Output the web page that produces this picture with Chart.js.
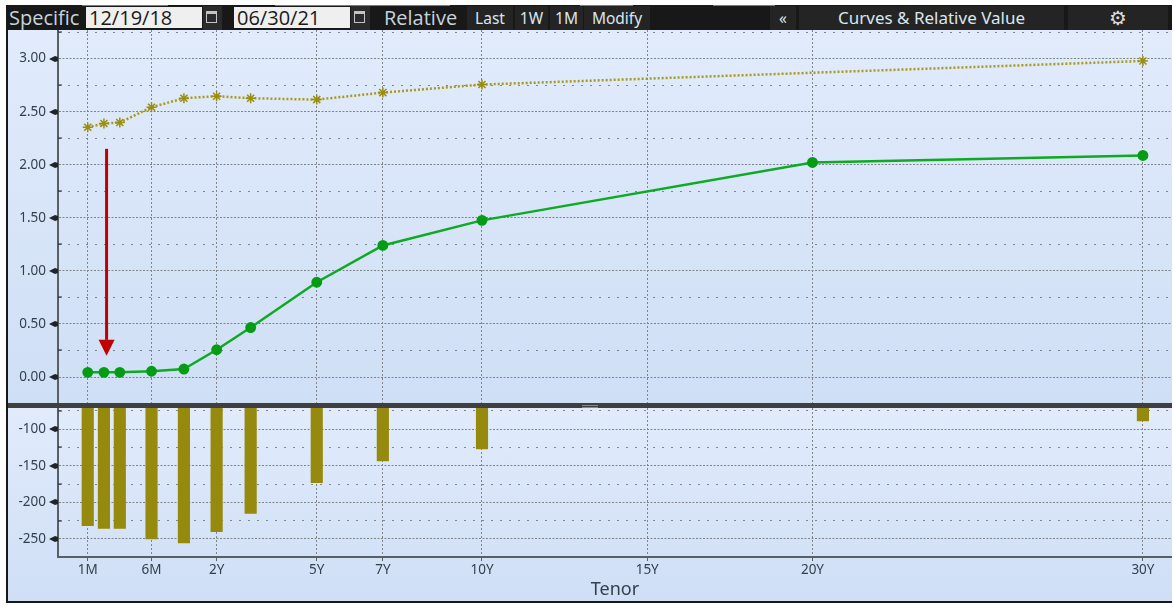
<!DOCTYPE html>
<html>
<head>
<meta charset="utf-8">
<script src="https://cdn.jsdelivr.net/npm/chart.js@4/dist/chart.umd.min.js"></script>
<style>
  html, body { margin: 0; padding: 0; background: #fff; }
  body { width: 1173px; height: 606px; position: relative; overflow: hidden; font-family: "Noto Sans", sans-serif; }
  #frame { position: absolute; left: 6px; top: 5px; width: 1166px; height: 598px; background: #181818; }
  .panel { position: absolute; left: 8px; width: 1164px; background: linear-gradient(#e1ebfc, #cfdff5); }
  #topPanel { top: 30px; height: 373px; }
  #bottomPanel { top: 408px; height: 193px; }
  #divider { position: absolute; left: 8px; top: 403px; width: 1164px; height: 5px; background: #3f3f3f; }
  #grip { position: absolute; left: 582px; top: 405px; width: 16px; height: 3px; border-top: 1px solid #8a8a8a; border-bottom: 1px solid #8a8a8a; box-sizing: border-box; }
  .strip { position: absolute; top: 5px; height: 1px; background: #a5762f; }
  .tb { position: absolute; top: 6px; height: 24px; line-height: 24px; color: #dbe6f0; white-space: nowrap; }
  .big { font-family: "Open Sans", sans-serif; font-size: 20px; color: #c6d3de; }
  .btn { font-family: "Noto Sans", sans-serif; font-size: 15.5px; text-align: center; background: #242424; }
  .date { position: absolute; top: 7px; height: 21px; line-height: 21px; width: 116px; background: #efefef; color: #1a1a1a; font-family: "Open Sans", sans-serif; font-size: 20px; padding-left: 3px; box-sizing: border-box; }
  .calCell { position: absolute; top: 6px; width: 19px; height: 24px; background: #2b2b2b; }
  .cal { position: absolute; top: 11px; width: 11px; height: 12px; border: 1px solid #c4c4c4; border-top-width: 3px; box-sizing: border-box; }
  canvas { display: block; }
  .chartBox { position: absolute; left: 8px; width: 1164px; }
</style>
</head>
<body>
<div id="frame"></div>
<div class="strip" style="left:82px;width:86px"></div>
<div class="strip" style="left:275px;width:175px"></div>
<div class="strip" style="left:580px;width:53px"></div>
<div class="strip" style="left:713px;width:62px"></div>
<div class="tb big" style="left:9px">Specific</div>
<div class="date" style="left:86px">12/19/18</div>
<div class="calCell" style="left:203px"></div>
<div class="cal" style="left:206px"></div>
<div class="date" style="left:234px">06/30/21</div>
<div class="calCell" style="left:351px"></div>
<div class="cal" style="left:354px"></div>
<div class="tb big" style="left:384px">Relative</div>
<div class="tb btn" style="left:467px;width:46px">Last</div>
<div class="tb btn" style="left:515px;width:33px">1W</div>
<div class="tb btn" style="left:550px;width:33px">1M</div>
<div class="tb btn" style="left:584px;width:66px">Modify</div>
<div class="tb btn" style="left:770px;width:26px">«</div>
<div class="tb btn" style="left:799px;width:265px;font-size:17px">Curves &amp; Relative Value</div>
<div class="tb btn" style="left:1068px;width:100px;font-family:'DejaVu Sans';font-size:20px;color:#ddd">⚙</div>

<div id="topPanel" class="panel"></div>
<div id="bottomPanel" class="panel"></div>
<div id="divider"></div>
<div id="grip"></div>
<div class="chartBox" style="top:30px;height:373px"><canvas id="curveChart" width="1164" height="373"></canvas></div>
<div class="chartBox" style="top:408px;height:193px"><canvas id="spreadChart" width="1164" height="193"></canvas></div>

<script>
const tenors = ["1M", "2M", "3M", "6M", "1Y", "2Y", "3Y", "5Y", "7Y", "10Y", "20Y", "30Y"];
const tenorPos = [-1.93, -1.44, -0.96, 0, 0.98, 1.97, 3, 5, 7, 10, 20, 30];
const curveOld = [2.354, 2.389, 2.398, 2.542, 2.627, 2.646, 2.627, 2.614, 2.68, 2.756, null, 2.978];
const curveNew = [0.044, 0.044, 0.044, 0.054, 0.075, 0.257, 0.466, 0.893, 1.24, 1.476, 2.022, 2.088];
const spread = [-232, -235.5, -235.5, -250, -255.5, -240, -215, -173, -143.5, -127, null, -88.5];

const xTickPos = [-1.93, 0, 1.97, 5, 7, 10, 15, 20, 30];
const xTickLabels = ["1M", "6M", "2Y", "5Y", "7Y", "10Y", "15Y", "20Y", "30Y"];

const textColor = "#33404f";
const gridColor = "#80858c";
const axisColor = "#5a5f66";
const labelFont = { family: "'Noto Sans', sans-serif", size: 13.5 };

function points(values) {
  return tenorPos.map((x, i) => ({ x: x, y: values[i] }));
}

function isMajor(scale, value) {
  const step = scale.options.ticks.stepSize * 2;
  return Math.abs(value / step - Math.round(value / step)) < 1e-6;
}

function noPadding(scale) {
  scale.paddingTop = 0;
  scale.paddingBottom = 0;
  scale.paddingLeft = 0;
  scale.paddingRight = 0;
}

// little arrow marks on major ticks, short dash on minor ones
const axisMarks = {
  id: "axisMarks",
  afterDraw(chart) {
    const y = chart.scales.y;
    const ctx = chart.ctx;
    const left = chart.chartArea.left;
    ctx.save();
    ctx.fillStyle = "#1f242b";
    y.ticks.forEach((t) => {
      const py = Math.round(y.getPixelForValue(t.value));
      if (isMajor(y, t.value)) {
        ctx.beginPath();
        ctx.moveTo(left - 9, py);
        ctx.lineTo(left - 3, py - 3);
        ctx.lineTo(left, py - 2);
        ctx.lineTo(left, py + 2);
        ctx.lineTo(left - 3, py + 3);
        ctx.closePath();
        ctx.fill();
      } else {
        ctx.fillRect(left, py - 0.5, 4, 1);
      }
    });
    ctx.restore();
  },
};

// red arrow pointing down at the front end, placed in data units
const redArrow = {
  id: "redArrow",
  afterDatasetsDraw(chart) {
    const { x, y } = chart.scales;
    const ctx = chart.ctx;
    const px = x.getPixelForValue(-1.36);
    const top = y.getPixelForValue(2.15);
    const neck = y.getPixelForValue(0.35);
    const tip = y.getPixelForValue(0.2);
    ctx.save();
    ctx.fillStyle = "#c00000";
    ctx.fillRect(px - 1.5, top, 3, neck - top);
    ctx.beginPath();
    ctx.moveTo(px - 8, neck);
    ctx.lineTo(px + 8, neck);
    ctx.lineTo(px, tip);
    ctx.closePath();
    ctx.fill();
    ctx.restore();
  },
};

function xScale(showLabels) {
  return {
    type: "linear",
    offset: false,
    min: -2.83,
    max: 30.88,
    afterBuildTicks: (scale) => {
      scale.ticks = xTickPos.map((v) => ({ value: v }));
    },
    afterFit: (scale) => {
      noPadding(scale);
      scale.height = showLabels ? 44 : 0;
    },
    grid: {
      offset: false,
      color: gridColor,
      lineWidth: 1,
      drawTicks: showLabels,
      tickLength: 4,
      tickColor: axisColor,
    },
    border: { display: showLabels, color: axisColor, width: 2, dash: [2, 2] },
    ticks: {
      display: showLabels,
      autoSkip: false,
      maxRotation: 0,
      color: textColor,
      font: labelFont,
      padding: 1,
      callback: (value) => {
        const i = xTickPos.indexOf(value);
        return i >= 0 ? xTickLabels[i] : "";
      },
    },
    title: {
      display: showLabels,
      text: "Tenor",
      color: textColor,
      font: { family: "'Noto Sans', sans-serif", size: 18 },
      padding: { top: 0, bottom: 0 },
    },
  };
}

function yScale(min, max, step, digits) {
  return {
    min: min,
    max: max,
    afterFit: (scale) => {
      noPadding(scale);
      scale.width = 50;
    },
    grid: { drawTicks: false, color: gridColor, lineWidth: 1 },
    border: {
      display: true,
      color: axisColor,
      width: 2,
      dash: (c) => (c.tick && isMajor(c.scale, c.tick.value) ? [2, 1.5] : [2, 7]),
    },
    ticks: {
      stepSize: step,
      includeBounds: false,
      autoSkip: false,
      color: textColor,
      font: labelFont,
      padding: 12,
      callback: function (value) {
        return isMajor(this, value) ? value.toFixed(digits) : "";
      },
    },
  };
}

new Chart(document.getElementById("curveChart"), {
  type: "line",
  data: {
    datasets: [
      {
        label: "12/19/18",
        data: points(curveOld),
        borderColor: "#a89a1c",
        borderWidth: 2.5,
        borderDash: [2, 2],
        spanGaps: true,
        pointStyle: "star",
        pointRadius: 5,
        pointBorderColor: "#9b8e0c",
        pointBorderWidth: 1.5,
      },
      {
        label: "06/30/21",
        data: points(curveNew),
        borderColor: "#0cab22",
        borderWidth: 2.5,
        pointStyle: "circle",
        pointRadius: 4.2,
        pointBackgroundColor: "#049c14",
        pointBorderColor: "#049c14",
      },
    ],
  },
  options: {
    responsive: false,
    animation: false,
    layout: { padding: 0, autoPadding: false },
    plugins: { legend: { display: false }, tooltip: { enabled: false } },
    scales: {
      x: xScale(false),
      y: yScale(-0.245, 3.27, 0.25, 2),
    },
  },
  plugins: [axisMarks, redArrow],
});

new Chart(document.getElementById("spreadChart"), {
  type: "bar",
  data: {
    datasets: [
      {
        label: "Change",
        data: points(spread),
        backgroundColor: "#958a0e",
        barThickness: 11.5,
      },
    ],
  },
  options: {
    responsive: false,
    animation: false,
    layout: { padding: 0, autoPadding: false },
    plugins: { legend: { display: false }, tooltip: { enabled: false } },
    scales: {
      x: xScale(true),
      y: yScale(-274.7, -71, 25, 0),
    },
  },
  plugins: [axisMarks],
});
</script>
</body>
</html>
